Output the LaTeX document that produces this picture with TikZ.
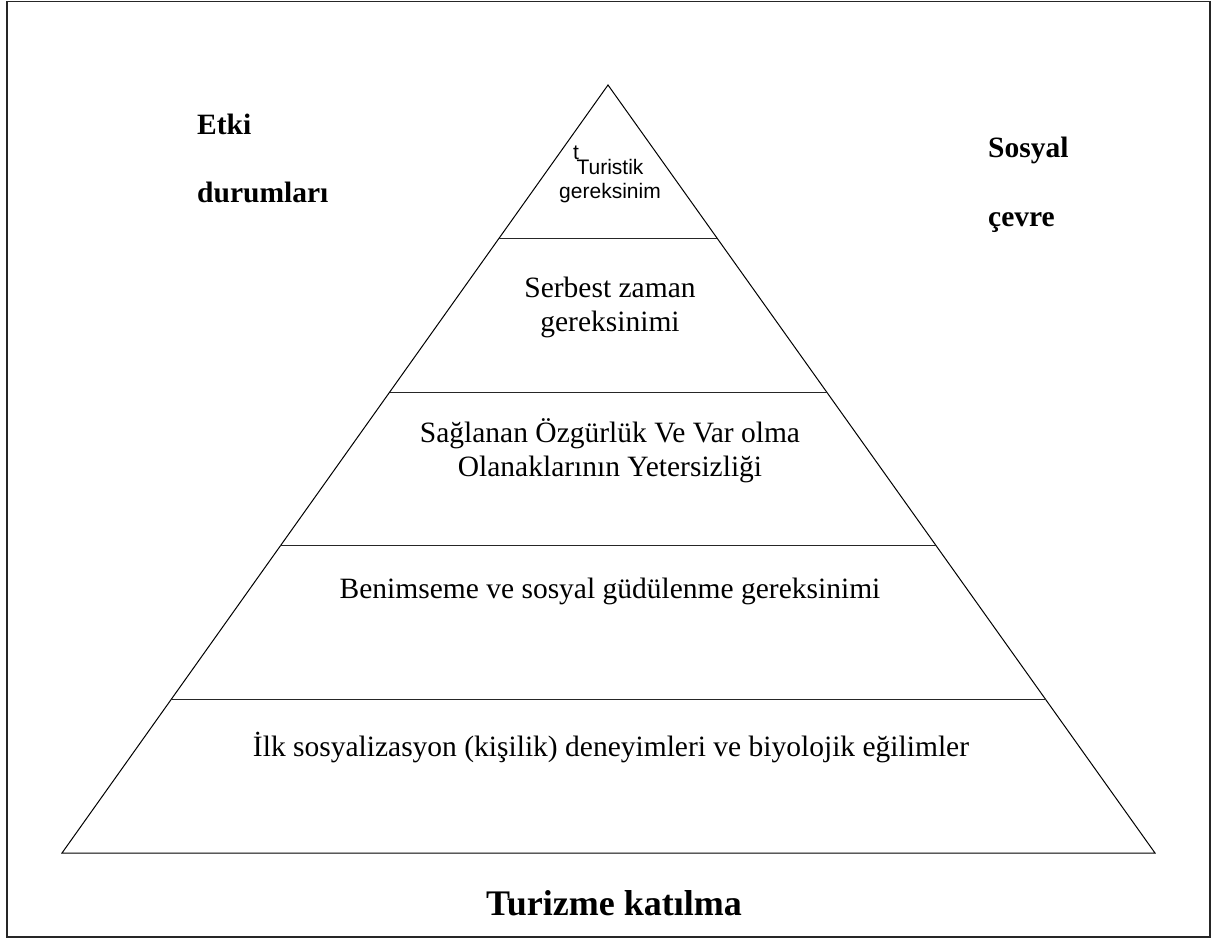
\documentclass[tikz,border=0pt]{standalone}
\usepackage{fontspec}
\setmainfont{Liberation Serif}
\newfontfamily\arialfont{Liberation Sans}
\usetikzlibrary{calc}
\tikzset{
  layertext/.style={font=\fontsize{29.5}{34}\selectfont, align=center, inner sep=0pt, anchor=base},
  sidelabel/.style={font=\fontsize{29.5}{34}\selectfont\bfseries, inner sep=0pt, anchor=base west},
  toptext/.style={font=\arialfont\fontsize{21}{24}\selectfont, align=center, inner sep=0pt, anchor=base},
  pyrline/.style={line width=1pt, black},
  divider/.style={line width=1.3pt, black!85},
}
\begin{document}
\begin{tikzpicture}[x=1pt, y=-1pt]
  \useasboundingbox (0,0) rectangle (1227,940);
  % outer frame
  \draw[line width=1.6pt, black!85] (7,1.5) rectangle (1210,937);

  % pyramid outline
  \coordinate (apex) at (608,85);
  \coordinate (bl) at (62,853);
  \coordinate (br) at (1155,853);
  \draw[pyrline] (bl) -- (apex) -- (br) -- cycle;

  % layer dividers
  \foreach \t/\n in {0.2/a, 0.4/b, 0.6/c, 0.8/d} {
    \coordinate (L\n) at ($(apex)!\t!(bl)$);
    \coordinate (R\n) at ($(apex)!\t!(br)$);
    \draw[divider] (L\n) -- (R\n);
  }

  % layer texts (base anchor sits on the last line)
  \node[toptext, anchor=base west] (stray) at (573,159) {t};
  \node[toptext] (tur) at (610,198) {Turistik\\gereksinim};
  \node[layertext] (serb) at (610,331) {Serbest zaman\\gereksinimi};
  \node[layertext] (sagl) at (610,476) {Sağlanan Özgürlük Ve Var olma\\Olanaklarının Yetersizliği};
  \node[layertext] (beni) at (610,598) {Benimseme ve sosyal güdülenme gereksinimi};
  \node[layertext] (ilk) at (611,756) {İlk sosyalizasyon (kişilik) deneyimleri ve biyolojik eğilimler};

  % side labels
  \node[sidelabel] (etki) at (197,134) {Etki};
  \node[sidelabel] (durum) at (197,202) {durumları};
  \node[sidelabel] (sosyal) at (988,157) {Sosyal};
  \node[sidelabel] (cevre) at (988,226) {çevre};

  % bottom label
  \node[font=\fontsize{36}{40}\selectfont\bfseries, inner sep=0pt, anchor=base] (katil) at (614,915) {Turizme katılma};
\end{tikzpicture}
\end{document}
